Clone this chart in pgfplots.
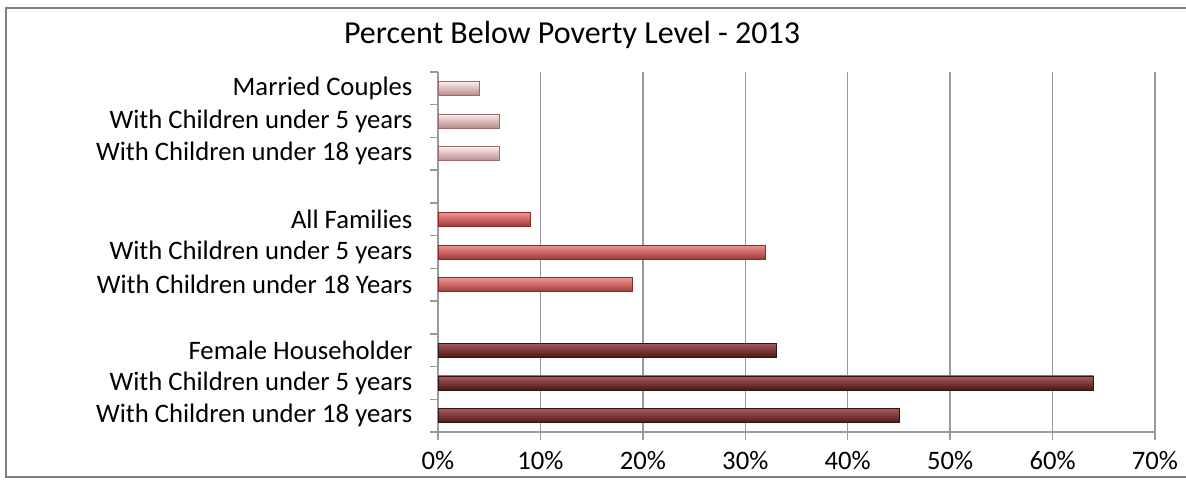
\documentclass[border=0pt]{standalone}
\usepackage{pgfplots}
\pgfplotsset{compat=1.18}
\usepackage{fontspec}
\setmainfont{Carlito}
\definecolor{gridc}{HTML}{9A9A9A}
\definecolor{pinkb}{HTML}{E6BDBC}
\definecolor{pinkt}{HTML}{FBEDED}
\definecolor{pinkd}{HTML}{B98A89}
\definecolor{pinke}{HTML}{9C6A6A}
\definecolor{redb}{HTML}{D75B58}
\definecolor{redt}{HTML}{F29491}
\definecolor{redd}{HTML}{9E3A38}
\definecolor{rede}{HTML}{8A2C2A}
\definecolor{marb}{HTML}{6E2A29}
\definecolor{mart}{HTML}{A85C5B}
\definecolor{mard}{HTML}{4A1817}
\definecolor{mare}{HTML}{3A1010}
\pgfplotsset{
  marbar/.style={xbar, bar width=10.5pt, bar shift=0pt, draw=mare, line width=0.6pt, top color=mart, middle color=marb, bottom color=mard},
  redbar/.style={xbar, bar width=10.5pt, bar shift=0pt, draw=rede, line width=0.6pt, top color=redt, middle color=redb, bottom color=redd},
  pinkbar/.style={xbar, bar width=10.5pt, bar shift=0pt, draw=pinke, line width=0.6pt, top color=pinkt, middle color=pinkb, bottom color=pinkd},
}
\begin{document}
\begin{tikzpicture}
\useasboundingbox (0,0) rectangle (889.5pt,-360pt);
\draw[color=black!50, line width=1.5pt] (889.5pt,-6pt) -- (4.5pt,-6pt) -- (4.5pt,-358pt) -- (889.5pt,-358pt);
\node[font=\fontsize{24}{28}\selectfont] at (429pt,-26.5pt) {Percent Below Poverty Level - 2013};
\begin{axis}[
  at={(328.5pt,-324pt)}, anchor=south west,
  scale only axis, width=537.75pt, height=270pt,
  xmin=0, xmax=70, ymin=-0.5, ymax=10.5,
  axis x line=bottom, axis y line=left,
  axis line style={gridc, line width=1.1pt, -},
  xtick={0,10,...,70},
  xticklabels={0\%,10\%,20\%,30\%,40\%,50\%,60\%,70\%},
  xmajorgrids, grid style={gridc, line width=1.1pt},
  major tick length=6pt, tick align=outside,
  tick style={gridc, line width=1.1pt},
  ytick={-0.5,0.5,...,10.5},
  yticklabels={With Children under 18 years, With Children under 5 years, Female Householder\hspace{6pt}, {}, With Children under 18 Years, With Children under 5 years, All Families\hspace{6pt}, {}, With Children under 18 years, With Children under 5 years, Married Couples, {}},
  ticklabel style={font=\fontsize{20}{24}\selectfont},
  yticklabel style={anchor=east, inner sep=0pt, xshift=-13pt, yshift=12.27pt},
  xticklabel style={anchor=north, inner sep=0pt, yshift=-8pt},
  /pgf/number format/assume math mode=true,
  clip=false,
]
\addplot[marbar] coordinates {(45,0)};
\addplot[marbar] coordinates {(64,1)};
\addplot[marbar] coordinates {(33,2)};
\addplot[redbar] coordinates {(19,4)};
\addplot[redbar] coordinates {(32,5)};
\addplot[redbar] coordinates {(9,6)};
\addplot[pinkbar] coordinates {(6,8)};
\addplot[pinkbar] coordinates {(6,9)};
\addplot[pinkbar] coordinates {(4,10)};
\end{axis}
\end{tikzpicture}
\end{document}
